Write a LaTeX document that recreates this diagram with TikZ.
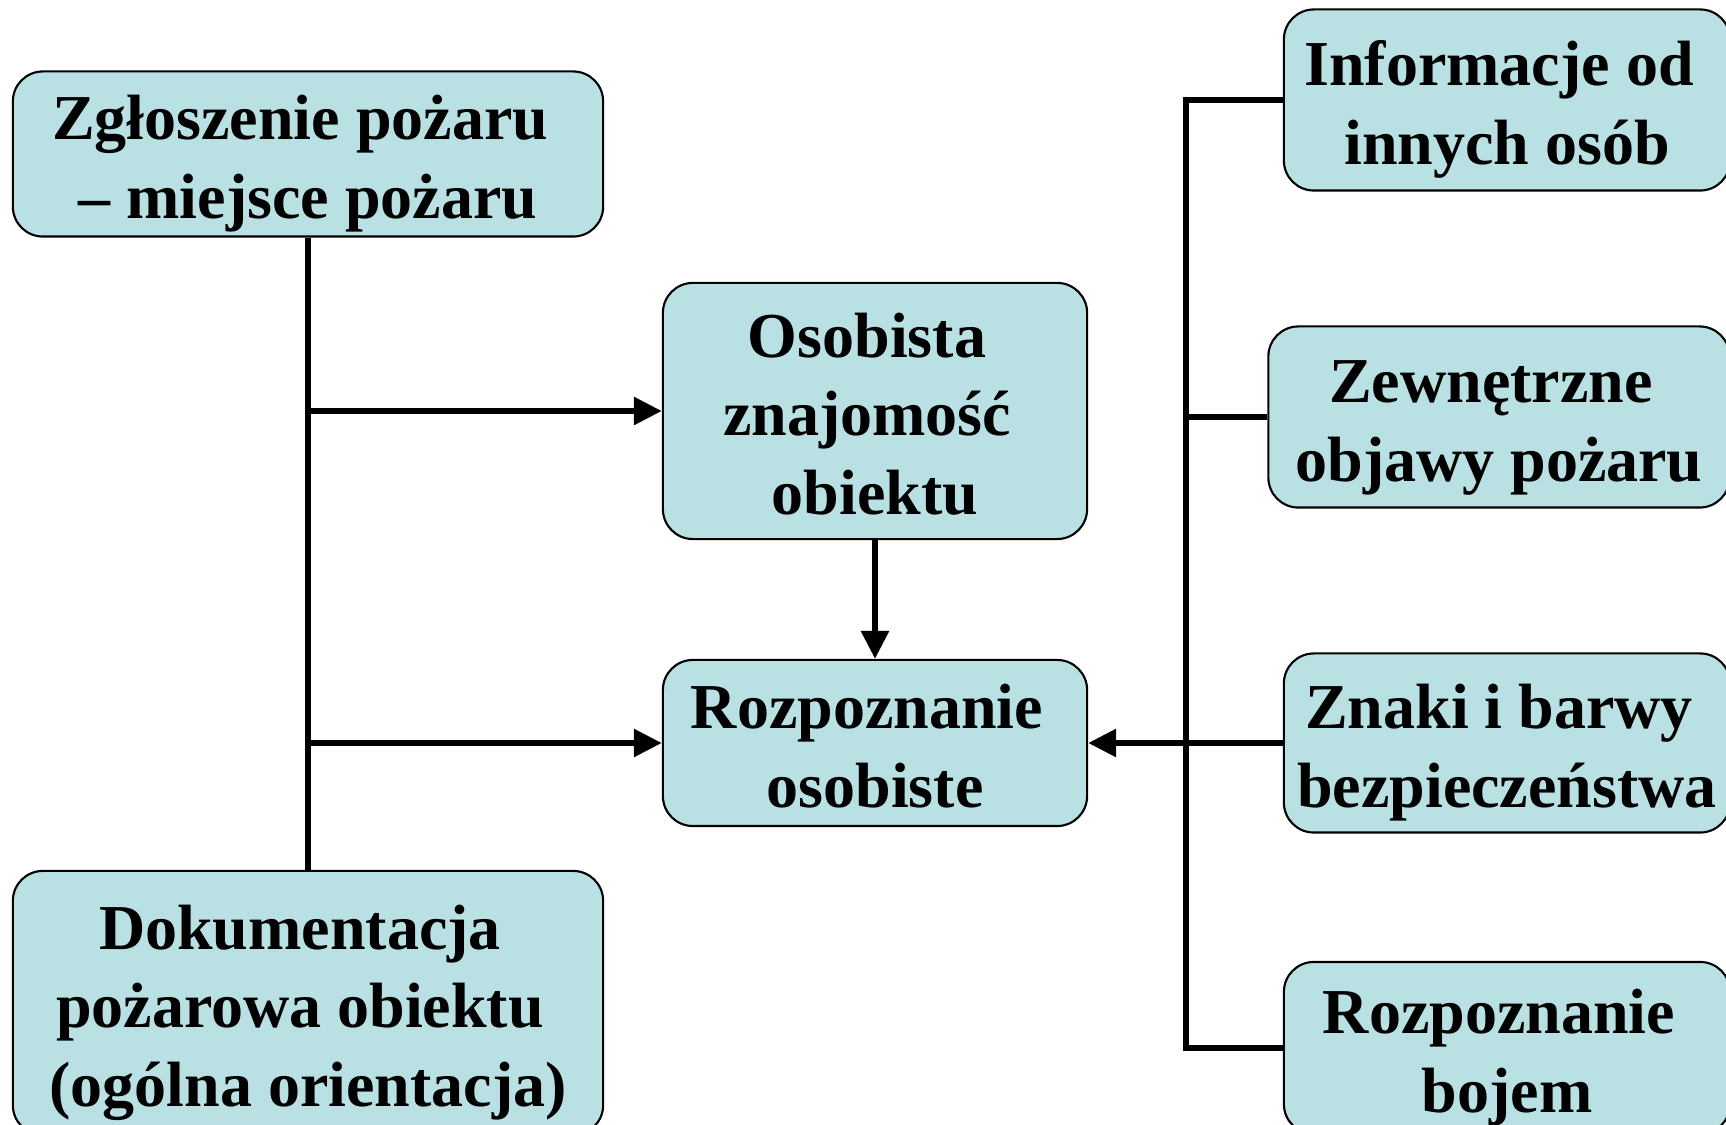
\documentclass[tikz,border=0pt]{standalone}
\usepackage{fontspec}
\setmainfont{Liberation Serif}
\usetikzlibrary{arrows.meta}
\definecolor{boxfill}{HTML}{B9E0E3}
\newcommand{\trail}{\kern0.25em}

\begin{document}
\begin{tikzpicture}[x=0.01cm,y=-0.01cm]
\tikzstyle{box}=[draw=black, line width=0.6pt, fill=boxfill, rounded corners=0.3cm,
  align=center, inner sep=0pt, font=\fontsize{18.2}{22.4}\selectfont\bfseries,
  text height=41.6pt, text depth=5pt]
\tikzstyle{three}=[text height=64pt]
\tikzstyle{wire}=[line width=1.7pt, black]
\tikzstyle{arr}=[wire, -{Triangle[length=0.28cm,width=0.27cm]}]
\path[use as bounding box, clip] (0,0) rectangle (1726,1125);
% left column
\node [box, minimum width=5.9cm, minimum height=1.65cm] (zgl) at (308,154) {Zgłoszenie pożaru\trail\\– miejsce pożaru};
\node [box, three, minimum width=5.9cm, minimum height=2.64cm] (dok) at (308,1003) {Dokumentacja\trail\\pożarowa obiektu\trail\\(ogólna orientacja)};
% middle column
\node [box, three, minimum width=4.24cm, minimum height=2.56cm] (osob) at (875,411) {Osobista\trail\\znajomość\trail\\obiektu};
\node [box, minimum width=4.24cm, minimum height=1.66cm] (rozos) at (875,743) {Rozpoznanie\trail\\osobiste};
% right column
\node [box, minimum width=4.46cm, minimum height=1.81cm] (info) at (1507,100) {Informacje od\trail\\innych osób};
\node [box, minimum width=4.61cm, minimum height=1.81cm] (zew) at (1499,417) {Zewnętrzne\trail\\objawy pożaru};
\node [box, minimum width=4.46cm, minimum height=1.79cm] (znaki) at (1507,743) {Znaki i barwy\trail\\bezpieczeństwa};
\node [box, minimum width=4.46cm, minimum height=1.72cm] (bojem) at (1507,1048) {Rozpoznanie\trail\\bojem};
\coordinate (rbus) at (1186,0);
% connectors
\draw [wire] (zgl.south) -- (dok.north);
\draw [arr] (zgl.south |- osob.west) -- (osob.west);
\draw [arr] (zgl.south |- rozos.west) -- (rozos.west);
\draw [arr] (osob.south) -- (rozos.north);
\draw [wire] (info.west) -- (info.west -| rbus) -- (bojem.west -| rbus) -- (bojem.west);
\draw [wire] (zew.west) -- (zew.west -| rbus);
\draw [arr] (znaki.west) -- (rozos.east);
\end{tikzpicture}
\end{document}
